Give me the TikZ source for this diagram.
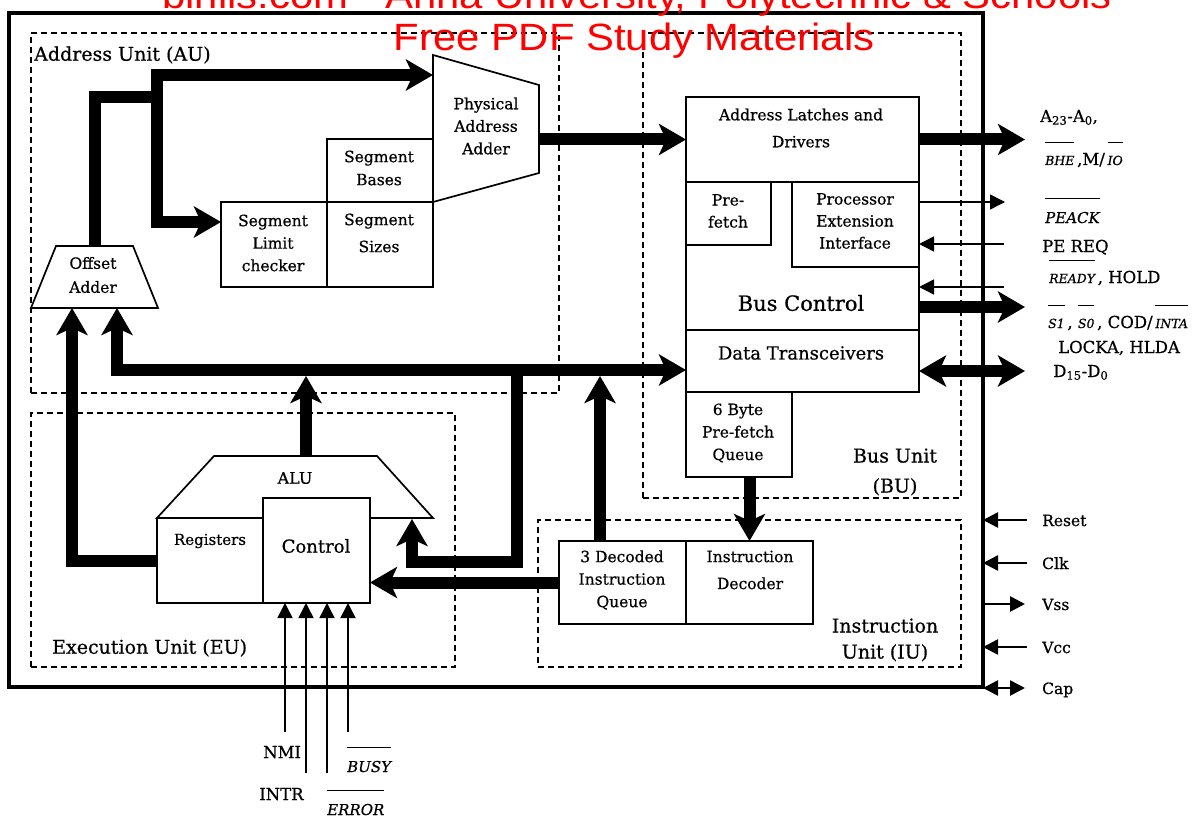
\documentclass[tikz,border=0pt]{standalone}
\usepackage{fontspec}
\usepackage{graphicx}
\setmainfont{DejaVu Serif}[FakeBold=0.6]
\newfontfamily\wmfont{Liberation Sans}
\usetikzlibrary{arrows.meta,fit}
\newcommand{\ovbar}[1]{\leavevmode\vbox{\hrule height 1.2pt\kern 13pt\hbox{#1}}}
\newcommand{\sit}[1]{{\fontsize{12.5}{13}\selectfont\itshape #1}}
\definecolor{wmred}{RGB}{255,0,0}
\tikzset{
  blk/.style={draw, line width=1.7pt, inner sep=0pt, outer sep=0pt},
  ghost/.style={inner sep=0pt, outer sep=0pt},
  unit/.style={draw, line width=1.9pt, dash pattern=on 6pt off 4pt, inner sep=0pt, outer sep=0pt},
  bhead/.tip={Stealth[length=27pt,width=31pt,inset=7pt]},
  busarrow/.style={line width=12pt, -bhead},
  busdouble/.style={line width=12pt, bhead-bhead},
  thead/.tip={Triangle[length=15pt,width=15pt]},
  sig/.style={line width=1.5pt, -thead},
  sigb/.style={line width=2.6pt, -thead},
  sigbd/.style={line width=2.6pt, thead-thead},
  btxt/.style={font=\fontsize{15.5}{22.5}\selectfont, inner sep=0pt, align=center},
  utxt/.style={font=\fontsize{19}{28}\selectfont, inner sep=0pt, align=center},
  stxt/.style={font=\fontsize{16.5}{20}\selectfont, inner sep=0pt, anchor=base west},
  itxt/.style={font=\fontsize{15}{18}\selectfont\itshape, inner sep=0pt, anchor=base west},
  wm/.style={font=\wmfont\fontsize{38}{42}\selectfont, text=wmred, inner sep=0pt, anchor=base},
}
\begin{document}
\begin{tikzpicture}[x=1pt,y=-1pt]
\useasboundingbox (0,0) rectangle (1204,821);
\fill[white] (0,0) rectangle (1204,821);

% chip frame
\node[ghost, draw, line width=3.5pt, fit={(9,13) (983,687)}] (chip) {};

% unit boxes
\node[unit, fit={(31,33) (559,393)}] (au) {};
\node[unit, fit={(643,33) (961,498)}] (bu) {};
\node[unit, fit={(31,413) (455,667)}] (eu) {};
\node[unit, fit={(538,520) (961,667)}] (iu) {};
\node[utxt, anchor=west] (aul) at (34,55) {Address Unit (AU)};
\node[utxt, font=\fontsize{19}{30}\selectfont] (bul) at (895,472) {Bus Unit\\(BU)};
\node[utxt, anchor=west] (eul) at (52,648) {Execution Unit (EU)};
\node[utxt, font=\fontsize{19}{26}\selectfont] (iul) at (885,640) {Instruction\\Unit (IU)};

% ---- Address unit blocks
\draw[line width=1.7pt] (433,55) -- (539,85) -- (539,173) -- (433,202) -- cycle;
\node[ghost, fit={(433,55) (539,202)}] (paa) {};
\node[btxt] (paat) at (486,126) {Physical\\Address\\Adder};
\node[blk, fit={(327,139) (433,202)}] (segb) {};
\node[btxt, font=\fontsize{15.5}{23}\selectfont] (segbt) at (379,168) {Segment\\Bases};
\node[blk, fit={(327,202) (433,287)}] (segs) {};
\node[btxt, font=\fontsize{15.5}{27}\selectfont] (segst) at (379,233) {Segment\\Sizes};
\node[blk, fit={(221,202) (327,287)}] (segl) {};
\node[btxt] (seglt) at (273,243) {Segment\\Limit\\checker};
\draw[line width=1.7pt] (56,246) -- (133,246) -- (158,308) -- (31,308) -- cycle;
\node[ghost, fit={(31,246) (158,308)}] (off) {};
\node[btxt, font=\fontsize{15.5}{24}\selectfont] (offt) at (93,275) {Offset\\Adder};

% ---- Bus unit blocks
\node[blk, fit={(686,97) (919,182)}] (latch) {};
\node[btxt, font=\fontsize{15.5}{27}\selectfont] (latcht) at (801,128) {Address Latches and\\Drivers};
\node[blk, fit={(686,182) (919,330)}] (busc) {};
\node[blk, fit={(686,182) (771,245)}] (pref) {};
\node[btxt, font=\fontsize{15.5}{22}\selectfont] (preft) at (728,211) {Pre-\\fetch};
\node[blk, fit={(792,182) (919,267)}] (pei) {};
\node[btxt, font=\fontsize{15.5}{22}\selectfont] (peit) at (855,221) {Processor\\Extension\\Interface};
\node[btxt, font=\fontsize{21}{24}\selectfont] (busct) at (801,303) {Bus Control};
\node[blk, fit={(686,330) (919,392)}] (dt) {};
\node[btxt, font=\fontsize{18}{22}\selectfont] (dtt) at (801,353) {Data Transceivers};
\node[blk, fit={(686,392) (792,477)}] (pfq) {};
\node[btxt] (pfqt) at (738,433) {6 Byte\\Pre-fetch\\Queue};

% ---- Instruction unit blocks
\node[blk, fit={(559,541) (686,624)}] (dq) {};
\node[btxt] (dqt) at (622,580) {3 Decoded\\Instruction\\Queue};
\node[blk, fit={(686,541) (813,624)}] (idec) {};
\node[btxt, font=\fontsize{15.5}{27}\selectfont] (idect) at (750,570) {Instruction\\Decoder};

% ---- Execution unit blocks
\draw[line width=1.7pt] (157,518) -- (214,456) -- (377,456) -- (433,518) -- cycle;
\node[ghost, fit={(157,456) (433,518)}] (alu) {};
\node[btxt, font=\fontsize{16}{20}\selectfont] (alut) at (295,478) {ALU};
\node[blk, fit={(157,518) (263,603)}] (reg) {};
\node[btxt, font=\fontsize{15}{20}\selectfont] (regt) at (210,541) {Registers};
\node[blk, fill=white, fit={(263,498) (370,603)}] (ctrl) {};
\node[btxt, font=\fontsize{18}{22}\selectfont] (ctrlt) at (316,546) {Control};

% ---- coordinates of bends and free ends
\coordinate (j1) at (157,97);
\coordinate (paaIn) at (433,75);
\coordinate (slcIn) at (221,222);
\coordinate (aOut) at (1025,139.5);
\coordinate (peackOut) at (1005,202);
\coordinate (peqIn) at (1004,244);
\coordinate (rdyIn) at (1004,287);
\coordinate (bcOut) at (1025,307);
\coordinate (dOut) at (1025,371);
\coordinate (busL) at (117,370);
\coordinate (offIn2) at (117,308);
\coordinate (offIn1) at (72,308);
\coordinate (aluTop) at (306,456);
\coordinate (busA) at (306,376);
\coordinate (dqTop) at (600,541);
\coordinate (busB) at (600,376);
\coordinate (lp1) at (517,364);
\coordinate (lp2) at (517,562);
\coordinate (aluIn) at (412,519);
\coordinate (rstIn) at (1027,520);
\coordinate (clkIn) at (1027,563);
\coordinate (vssOut) at (1025,604);
\coordinate (vccIn) at (1027,647);
\coordinate (capOut) at (1025,688);
\coordinate (nmiT) at (285,732);
\coordinate (intrT) at (306,773);
\coordinate (errT) at (327,773);
\coordinate (busyT) at (348,732);

% ---- thick buses
\draw[busarrow] (off.north) |- (j1) |- (paaIn);
\draw[busarrow] (j1) |- (slcIn);
\draw[busarrow] (paa.east |- latch.west) -- (latch.west);
\draw[busarrow] (latch.east) -- (aOut);
\draw[busarrow] (busc.east |- bcOut) -- (bcOut);
\draw[busdouble] (dt.east |- dOut) -- (dOut);
\draw[busdouble] (offIn2) |- (dt.west |- busL);
\draw[busarrow] (aluTop) -- (busA);
\draw[busarrow] (dqTop) -- (busB);
\draw[busarrow] (lp1) -- (lp2) -| (aluIn);
\draw[busarrow] (reg.west) -| (offIn1);
\draw[busarrow] (dq.west) -- (ctrl.east |- dq.west);
\draw[busarrow] (idec.north |- pfq.south) -- (idec.north);

% ---- thin signals
\draw[sig] (pei.east |- peackOut) -- (peackOut);
\draw[sig] (peqIn) -- (pei.east |- peqIn);
\draw[sig] (rdyIn) -- (busc.east |- rdyIn);
\draw[sigb] (rstIn) -- (chip.east |- rstIn);
\draw[sigb] (clkIn) -- (chip.east |- clkIn);
\draw[sigb] (chip.east |- vssOut) -- (vssOut);
\draw[sigb] (vccIn) -- (chip.east |- vccIn);
\draw[sigbd] (chip.east |- capOut) -- (capOut);
\draw[sig] (nmiT) -- (ctrl.south -| nmiT);
\draw[sig] (intrT) -- (ctrl.south -| intrT);
\draw[sig] (errT) -- (ctrl.south -| errT);
\draw[sig] (busyT) -- (ctrl.south -| busyT);

% ---- pin labels
\node[stxt] (la) at (1040,122) {A\textsubscript{23}-A\textsubscript{0},};
\node[stxt] (lb) at (1045,165) {\ovbar{\sit{BHE}}\,,M/\,\ovbar{\sit{IO}}};
\node[itxt] (lc) at (1045,223) {\ovbar{PEACK}};
\node[stxt] (ld) at (1042,252) {PE REQ};
\node[stxt] (le) at (1049,283) {\ovbar{\sit{READY}}\,, HOLD};
\node[stxt] (lf) at (1048,328) {\ovbar{\sit{S1}}\,, \ovbar{\sit{S0}}\,, COD/\,\ovbar{\sit{INTA}}};
\node[stxt] (lg) at (1058,353) {LOCKA, HLDA};
\node[stxt] (lh) at (1053,377) {D\textsubscript{15}-D\textsubscript{0}};
\node[stxt, font=\fontsize{15.5}{18}\selectfont] (lrst) at (1042,526) {Reset};
\node[stxt, font=\fontsize{15.5}{18}\selectfont] (lclk) at (1042,569) {Clk};
\node[stxt, font=\fontsize{15.5}{18}\selectfont] (lvss) at (1042,610) {Vss};
\node[stxt, font=\fontsize{15.5}{18}\selectfont] (lvcc) at (1042,653) {Vcc};
\node[stxt, font=\fontsize{15.5}{18}\selectfont] (lcap) at (1042,694) {Cap};
\node[stxt] (lnmi) at (263,758) {NMI};
\node[stxt] (lintr) at (259,800) {INTR};
\node[itxt] (lbusy) at (347,772) {\ovbar{BUSY}};
\node[itxt] (lerr) at (327,815) {\ovbar{ERROR}};

% ---- watermark
\node[wm] (wm1) at (637,9) {\scalebox{1.1}[1]{binils.com - Anna University, Polytechnic \& Schools}};
\node[wm] (wm2) at (634,51) {\scalebox{1.1}[1]{Free PDF Study Materials}};
\end{tikzpicture}
\end{document}
